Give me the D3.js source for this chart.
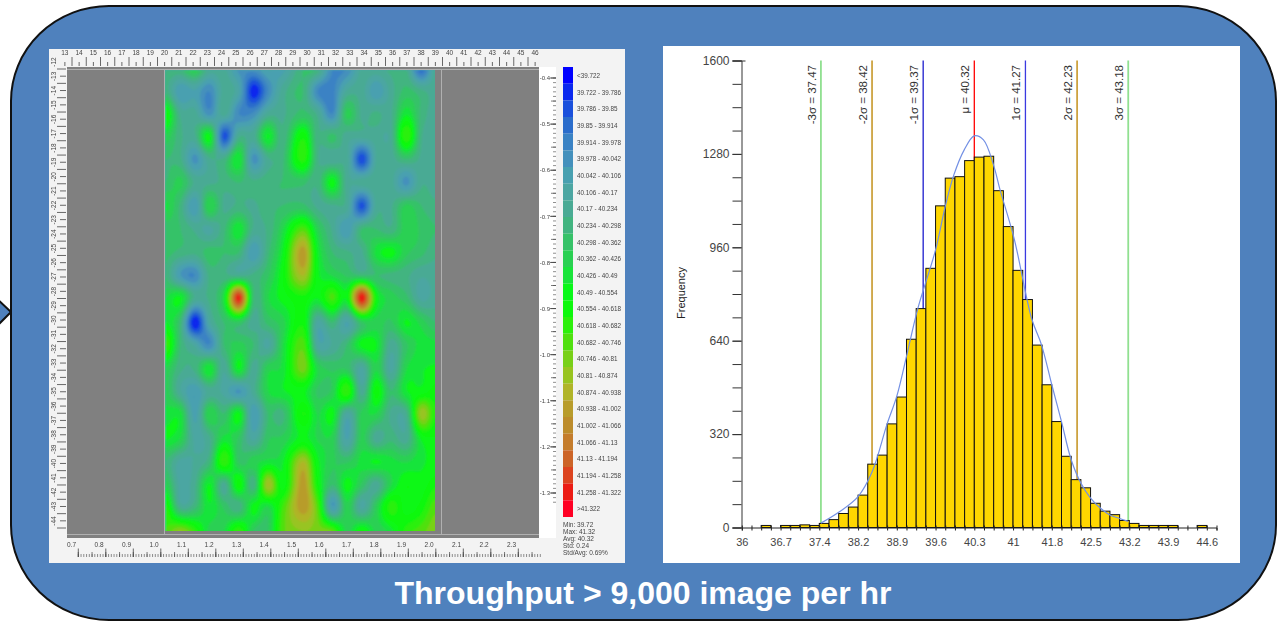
<!DOCTYPE html>
<html>
<head>
<meta charset="utf-8">
<script src="https://d3js.org/d3.v7.min.js"></script>
<style>
  body { margin: 0; background: #fff; }
  svg { display: block; font-family: "Liberation Sans", Arial, sans-serif; }
</style>
</head>
<body>
<div id="chart"></div>
<script>
// Wafer map: positions of the measured sites on the two side rulers
const heatCols = [1.013, 1.067, 1.12, 1.173, 1.226, 1.28, 1.333, 1.386, 1.439, 1.513, 1.566, 1.62, 1.673, 1.727, 1.78, 1.833, 1.889, 1.943, 1.993];
const heatRows = [-0.376, -0.426, -0.476, -0.524, -0.574, -0.624, -0.676, -0.726, -0.776, -0.826, -0.874, -0.928, -0.976, -1.028, -1.078, -1.126, -1.18, -1.23, -1.28, -1.328, -1.385];
const heatValues = [
  [40.3, 40.3, 40.42, 40.22, 40.2, 40.02, 40.02, 40.12, 40.08, 40.3, 40.3, 39.98, 39.98, 40.2, 40.22, 40.25, 40.25, 39.85, 40.2],
  [40.28, 40.05, 40.1, 39.98, 40.2, 40.12, 39.74, 39.98, 40.2, 40.3, 39.98, 39.95, 40.18, 40.2, 40.05, 40.2, 40.32, 40.25, 40.2],
  [40.6, 40.22, 40.2, 40.02, 40.2, 39.98, 40.0, 40.2, 40.22, 40.32, 40.22, 39.98, 40.38, 40.22, 40.25, 40.22, 40.48, 40.28, 40.2],
  [40.42, 40.25, 40.22, 40.52, 39.82, 40.22, 40.2, 40.5, 40.25, 40.6, 40.25, 40.32, 40.2, 40.2, 40.2, 40.2, 40.68, 40.25, 40.2],
  [40.3, 40.25, 40.02, 40.22, 40.25, 40.48, 40.02, 40.22, 40.28, 40.65, 40.25, 40.18, 40.2, 39.8, 40.18, 40.2, 40.3, 40.22, 40.2],
  [40.3, 40.38, 40.22, 40.22, 40.25, 40.3, 40.25, 40.28, 40.3, 40.32, 40.25, 40.53, 40.2, 40.2, 40.22, 40.2, 40.02, 40.22, 40.2],
  [40.45, 40.28, 40.05, 40.42, 40.22, 40.25, 40.22, 40.28, 40.3, 40.32, 40.22, 40.22, 40.2, 39.82, 40.2, 40.22, 40.38, 40.3, 40.25],
  [40.32, 40.3, 40.22, 40.15, 40.28, 40.48, 40.22, 40.25, 40.42, 40.72, 40.4, 40.22, 40.05, 40.3, 40.3, 40.25, 40.4, 40.35, 40.3],
  [40.32, 40.28, 40.25, 40.33, 40.3, 40.3, 40.05, 40.28, 40.5, 40.98, 40.5, 40.3, 40.25, 40.22, 40.45, 40.52, 40.38, 40.32, 40.25],
  [40.3, 40.05, 39.98, 40.25, 40.25, 40.22, 40.25, 40.35, 40.55, 40.88, 40.52, 40.42, 40.35, 40.3, 40.3, 40.28, 40.25, 40.18, 40.2],
  [40.42, 40.5, 40.22, 40.25, 40.45, 41.3, 40.3, 40.42, 40.52, 40.6, 40.5, 40.7, 40.52, 41.32, 40.55, 40.4, 40.32, 40.15, 40.2],
  [40.5, 40.3, 39.72, 40.15, 40.3, 40.35, 40.2, 40.32, 40.4, 40.6, 40.15, 40.3, 40.1, 40.35, 40.4, 40.35, 40.5, 40.4, 40.3],
  [40.7, 40.3, 40.15, 39.98, 40.3, 40.38, 40.3, 40.15, 40.42, 40.72, 40.15, 40.18, 40.3, 40.52, 40.5, 40.2, 40.35, 40.45, 40.45],
  [40.42, 40.25, 40.25, 40.48, 40.18, 40.5, 40.2, 40.4, 40.45, 40.78, 40.42, 40.35, 40.35, 40.15, 40.42, 40.15, 40.42, 40.48, 40.5],
  [40.4, 40.18, 40.05, 40.2, 40.15, 40.03, 40.2, 40.42, 40.48, 40.52, 40.35, 40.38, 40.68, 40.2, 40.58, 40.3, 40.48, 40.52, 40.58],
  [40.45, 40.45, 40.08, 40.42, 40.3, 40.52, 40.05, 40.3, 40.28, 40.62, 40.42, 40.52, 40.15, 40.38, 40.42, 40.22, 40.22, 40.85, 40.62],
  [40.5, 40.42, 40.15, 40.22, 40.45, 40.35, 40.15, 40.35, 40.38, 40.52, 40.42, 40.4, 40.1, 40.38, 40.2, 40.28, 40.2, 40.5, 40.55],
  [40.3, 40.15, 40.18, 40.28, 40.68, 40.35, 40.4, 40.45, 40.48, 40.88, 40.52, 40.38, 40.35, 40.45, 40.5, 40.45, 40.42, 40.48, 40.5],
  [40.42, 40.15, 40.22, 40.5, 40.2, 40.58, 40.25, 40.88, 40.52, 40.98, 40.58, 40.3, 40.52, 40.35, 40.2, 40.42, 40.55, 40.52, 40.6],
  [40.65, 40.22, 40.28, 40.48, 40.35, 40.25, 40.52, 40.42, 40.68, 40.98, 40.72, 40.05, 40.4, 40.15, 40.38, 40.65, 40.52, 40.58, 40.72],
  [40.68, 40.85, 40.68, 40.4, 40.42, 40.7, 40.35, 40.35, 40.72, 40.8, 40.78, 40.78, 40.4, 40.6, 40.4, 40.45, 40.65, 40.72, 40.8]
];

// Colour legend of the map
const bandEdges = [39.722, 39.786, 39.85, 39.914, 39.978, 40.042, 40.106, 40.17, 40.234, 40.298, 40.362, 40.426, 40.49, 40.554, 40.618, 40.682, 40.746, 40.81, 40.874, 40.938, 41.002, 41.066, 41.13, 41.194, 41.258, 41.322];
const bandColors = ["#0000ff", "#0a28ee", "#1a50dc", "#2a6ccb", "#3a82c4", "#4490bc", "#48a0b0", "#4ca6a2", "#4aaa94", "#42b480", "#36c268", "#2ad052", "#18e43a", "#08f818", "#0cf80c", "#2cf00c", "#50e010", "#78d018", "#98c420", "#b0b428", "#b89c2c", "#bc8c2c", "#c47c2c", "#cc6428", "#dc4420", "#ec1c14", "#ff0024"];
const bandLabels = ["<39.722"].concat(d3.pairs(bandEdges).map(p => p[0] + " - " + p[1]), [">41.322"]);
const statLabels = ["Min: 39.72", "Max: 41.32", "Avg: 40.32", "Std: 0.24", "Std/Avg: 0.69%"];

// Ruler labels around the map
const topRulerValues = d3.range(13, 47);
const leftRulerValues = d3.range(12, 45);
const rightRulerValues = [-0.4, -0.5, -0.6, -0.7, -0.8, -0.9, -1.0, -1.1, -1.2, -1.3];
const bottomRulerValues = [0.7, 0.8, 0.9, 1.0, 1.1, 1.2, 1.3, 1.4, 1.5, 1.6, 1.7, 1.8, 1.9, 2.0, 2.1, 2.2, 2.3];

// Histogram: bins are 0.18 wide, first bin starts at 36
const binStarts = d3.range(49).map(i => 36 + i * 0.18);
const binCounts = [0, 0, 7, 0, 7, 7, 9, 7, 14, 27, 48, 70, 111, 217, 248, 355, 447, 645, 750, 888, 1102, 1197, 1202, 1257, 1269, 1272, 1154, 1031, 881, 781, 625, 489, 363, 244, 164, 136, 83, 56, 44, 24, 14, 7, 7, 7, 7, 0, 0, 7, 0];
const curveX = [37.47, 37.8, 38.16, 38.42, 38.7, 38.88, 39.06, 39.27, 39.6, 39.78, 39.94, 40.13, 40.32, 40.49, 40.68, 40.8, 41.06, 41.385, 41.57, 41.76, 41.94, 42.12, 42.3, 42.48, 42.66, 42.84, 43.02, 43.18];
const curveY = [15, 52, 106, 190, 355, 450, 586, 750, 951, 1100, 1208, 1293, 1342, 1328, 1240, 1156, 990, 716, 625, 489, 363, 232, 152, 101, 67, 43, 31, 21];
const sigmaValues = [37.47, 38.42, 39.37, 40.32, 41.27, 42.23, 43.18];
const sigmaLabels = ["-3σ = 37.47", "-2σ = 38.42", "-1σ = 39.37", "μ = 40.32", "1σ = 41.27", "2σ = 42.23", "3σ = 43.18"];
const sigmaColors = ["#90e090", "#cda341", "#1c1ccc", "#ff0000", "#3a3ae0", "#cda341", "#90e090"];
const yTicks = [0, 320, 640, 960, 1280, 1600];
const yMinorTicks = d3.range(0, 1601, 80);
const xTicks = [36, 36.72, 37.44, 38.16, 38.88, 39.6, 40.32, 41.04, 41.76, 42.48, 43.2, 43.92, 44.64];
const xTickLabels = ["36", "36.7", "37.4", "38.2", "38.9", "39.6", "40.3", "41", "41.8", "42.5", "43.2", "43.9", "44.6"];

const svg = d3.select("#chart").append("svg").attr("width", 1278).attr("height", 622);
const defs = svg.append("defs");
defs.append("filter").attr("id", "soft").attr("x", "-2%").attr("y", "-2%").attr("width", "104%").attr("height", "104%")
  .append("feGaussianBlur").attr("stdDeviation", 1);
defs.append("filter").attr("id", "textSoft")
  .append("feGaussianBlur").attr("stdDeviation", 0.35);
defs.append("clipPath").attr("id", "heatClip")
  .append("rect").attr("x", 165).attr("y", 70).attr("width", 270).attr("height", 461);

// Blue callout behind both panels
svg.append("path")
  .attr("d", "M-6,296L11,312L-6,329Z")
  .attr("fill", "#4f81bd").attr("stroke", "#111").attr("stroke-width", 2);
svg.append("rect")
  .attr("x", 11).attr("y", 6).attr("width", 1265).attr("height", 614).attr("rx", 98).attr("ry", 95)
  .attr("fill", "#4f81bd").attr("stroke", "#111").attr("stroke-width", 2);
svg.append("text")
  .attr("x", 643).attr("y", 604).attr("text-anchor", "middle")
  .attr("font-size", 32).attr("font-weight", "bold").attr("fill", "#fff")
  .text("Throughput > 9,000 image per hr");

// ---- Left panel: wafer map ----
const left = svg.append("g");
left.append("rect").attr("x", 49).attr("y", 49).attr("width", 576).attr("height", 514).attr("fill", "#f3f3f3");
left.append("rect").attr("x", 67).attr("y", 67).attr("width", 472).attr("height", 471).attr("fill", "#808080");
left.append("rect").attr("x", 539).attr("y", 67).attr("width", 17).attr("height", 471).attr("fill", "#fff");

// Scales of the four rulers
const topX = d3.scaleLinear().domain([14, 46]).range([72, 528]);
const leftY = d3.scaleLinear().domain([12, 44]).range([69, 528]);
const rightY = d3.scaleLinear().domain([-0.4, -1.3]).range([78, 493]);
const bottomX = d3.scaleLinear().domain([0.7, 2.3]).range([78.3, 518.3]);

// Resample the sites on a fine grid so that d3.contours gives smooth bands
const colIndex = d3.scaleLinear().domain(heatCols).range(d3.range(heatCols.length)).clamp(true);
const rowIndex = d3.scaleLinear().domain(heatRows).range(d3.range(heatRows.length)).clamp(true);
function cubic(a, b, c, d, t) {
  return b + 0.5 * t * (c - a + t * (2 * a - 5 * b + 4 * c - d + t * (3 * (b - c) + d - a)));
}
function sample(cx, cy) {
  const i = Math.min(Math.floor(cx), heatCols.length - 2), j = Math.min(Math.floor(cy), heatRows.length - 2);
  const pick = (r, c) => heatValues[Math.max(0, Math.min(heatRows.length - 1, r))][Math.max(0, Math.min(heatCols.length - 1, c))];
  const rows = [-1, 0, 1, 2].map(dr => cubic(pick(j + dr, i - 1), pick(j + dr, i), pick(j + dr, i + 1), pick(j + dr, i + 2), cx - i));
  return cubic(rows[0], rows[1], rows[2], rows[3], cy - j);
}
const gridW = 136, gridH = 232;
const gridPx = 2;
const grid = new Array(gridW * gridH);
for (let gy = 0; gy < gridH; gy++) {
  for (let gx = 0; gx < gridW; gx++) {
    const v = bottomX.invert(165 + gx * gridPx);
    const w = rightY.invert(70 + gy * gridPx);
    grid[gy * gridW + gx] = sample(colIndex(v), rowIndex(w));
  }
}
const contours = d3.contours().size([gridW, gridH]).thresholds(bandEdges)(grid);
const gridPath = d3.geoPath(d3.geoTransform({
  point: function(px, py) { this.stream.point(165 + px * gridPx, 70 + py * gridPx); }
}));
const heat = left.append("g").attr("clip-path", "url(#heatClip)").append("g").attr("filter", "url(#soft)");
heat.append("rect").attr("x", 160).attr("y", 65).attr("width", 280).attr("height", 471).attr("fill", bandColors[7]);
heat.selectAll("path")
  .data(contours)
  .enter().append("path")
  .attr("d", gridPath)
  .attr("fill", (d, i) => bandColors[i + 1]);

// Light frame lines on the grey area
const frame = left.append("g").attr("stroke", "#b0b0b0").attr("stroke-width", 1);
frame.append("line").attr("x1", 67).attr("x2", 539).attr("y1", 69.5).attr("y2", 69.5);
frame.append("line").attr("x1", 67).attr("x2", 539).attr("y1", 534.5).attr("y2", 534.5);
frame.append("line").attr("x1", 164.5).attr("x2", 164.5).attr("y1", 69).attr("y2", 535);
frame.append("line").attr("x1", 441.5).attr("x2", 441.5).attr("y1", 69).attr("y2", 535);

// Rulers, all slightly soft like the screenshot
const rulers = left.append("g").attr("filter", "url(#textSoft)").attr("font-size", 6.5).attr("fill", "#444");

function tickLines(values, attrs, size) {
  rulers.append("g").attr("stroke", "#444").attr("stroke-width", size)
    .selectAll("line").data(values).enter().append("line")
    .attr("x1", attrs.x1).attr("x2", attrs.x2).attr("y1", attrs.y1).attr("y2", attrs.y2);
}

// Top ruler
tickLines(d3.range(13.5, 47, 1), { x1: d => topX(d), x2: d => topX(d), y1: 62, y2: 66 }, 0.8);
tickLines(d3.range(14, 47), { x1: d => topX(d), x2: d => topX(d), y1: 57, y2: 66 }, 0.8);
rulers.append("g").selectAll("text").data(topRulerValues).enter().append("text")
  .attr("x", d => topX(d) + 7).attr("y", 55).attr("text-anchor", "middle").text(d => d);

// Left ruler
tickLines(d3.range(12.5, 44, 1), { x1: 60, x2: 66, y1: d => leftY(d), y2: d => leftY(d) }, 0.8);
tickLines(d3.range(12, 45), { x1: 57, x2: 66, y1: d => leftY(d), y2: d => leftY(d) }, 0.8);
rulers.append("g").selectAll("text").data(leftRulerValues).enter().append("text")
  .attr("transform", d => "translate(56," + (leftY(d) - 7) + ") rotate(-90)")
  .attr("text-anchor", "middle").text(d => "-" + d);

// Right ruler
tickLines(d3.range(-0.4, -1.33, -0.01), { x1: 553, x2: 556, y1: d => rightY(d), y2: d => rightY(d) }, 0.6);
tickLines(d3.range(-0.4, -1.33, -0.05), { x1: 551, x2: 556, y1: d => rightY(d), y2: d => rightY(d) }, 0.7);
tickLines(rightRulerValues, { x1: 550, x2: 556, y1: d => rightY(d), y2: d => rightY(d) }, 0.8);
rulers.append("g").selectAll("text").data(rightRulerValues).enter().append("text")
  .attr("x", 550).attr("y", d => rightY(d) + 2.2).attr("text-anchor", "end").attr("font-size", 6)
  .text(d => d.toFixed(1));

// Bottom ruler
tickLines(d3.range(0.7, 2.39, 0.01), { x1: d => bottomX(d), x2: d => bottomX(d), y1: 554, y2: 557 }, 0.6);
tickLines(d3.range(0.7, 2.39, 0.05), { x1: d => bottomX(d), x2: d => bottomX(d), y1: 552, y2: 557 }, 0.7);
tickLines(bottomRulerValues, { x1: d => bottomX(d), x2: d => bottomX(d), y1: 548.5, y2: 557 }, 0.8);
rulers.append("g").selectAll("text").data(bottomRulerValues).enter().append("text")
  .attr("x", d => bottomX(d) - 6.7).attr("y", 546.5).attr("text-anchor", "middle").text(d => d.toFixed(1));

// Legend
const legendY = d3.scaleBand().domain(d3.range(bandLabels.length)).range([67, 517]);
left.append("g").selectAll("rect").data(bandColors).enter().append("rect")
  .attr("x", 563).attr("width", 10)
  .attr("y", (d, i) => legendY(i)).attr("height", legendY.bandwidth())
  .attr("fill", d => d);
const legendText = left.append("g").attr("filter", "url(#textSoft)").attr("fill", "#444");
legendText.selectAll("text.band").data(bandLabels).enter().append("text")
  .attr("class", "band")
  .attr("x", 577).attr("y", (d, i) => legendY(i) + legendY.bandwidth() / 2 + 2.6)
  .attr("font-size", 6.3).text(d => d);
legendText.selectAll("text.stat").data(statLabels).enter().append("text")
  .attr("class", "stat")
  .attr("x", 563).attr("y", (d, i) => 527 + i * 7).attr("font-size", 6.5).text(d => d);

// ---- Right panel: histogram ----
const right = svg.append("g");
right.append("rect").attr("x", 663).attr("y", 46).attr("width", 577).attr("height", 517).attr("fill", "#fff");

const x = d3.scaleLinear().domain([36, 44.82]).range([741.8, 1216.5]);
const y = d3.scaleLinear().domain([0, 1600]).range([527.5, 60.5]);

// Sigma lines sit behind the bars
right.append("g").selectAll("line").data(sigmaValues).enter().append("line")
  .attr("x1", d => x(d)).attr("x2", d => x(d))
  .attr("y1", y(1600)).attr("y2", y(0))
  .attr("stroke", (d, i) => sigmaColors[i])
  .attr("stroke-width", (d, i) => (i === 2 || i === 3 || i === 4) ? 1.3 : 1.8);

const bins = binStarts.map((s, i) => ({ start: s, count: binCounts[i] })).filter(d => d.count > 0);
right.append("g").selectAll("rect").data(bins).enter().append("rect")
  .attr("x", d => x(d.start))
  .attr("width", d => x(d.start + 0.18) - x(d.start))
  .attr("y", d => y(d.count))
  .attr("height", d => y(0) - y(d.count))
  .attr("fill", "#ffd700").attr("stroke", "#111").attr("stroke-width", 1);

right.append("path")
  .datum(curveX.map((v, i) => [v, curveY[i]]))
  .attr("d", d3.line().x(d => x(d[0])).y(d => y(d[1])).curve(d3.curveCatmullRom))
  .attr("fill", "none").attr("stroke", "#7390e4").attr("stroke-width", 1.2);

right.append("g").selectAll("text").data(sigmaLabels).enter().append("text")
  .attr("transform", (d, i) => "translate(" + (x(sigmaValues[i]) - 5) + ",65) rotate(-90)")
  .attr("text-anchor", "end").attr("font-size", 11.5).attr("fill", "#333").text(d => d);

// Axes
const yMinor = right.append("g").attr("transform", "translate(741.5,0)")
  .call(d3.axisLeft(y).tickValues(yMinorTicks).tickSize(9).tickFormat(""));
yMinor.select(".domain").attr("stroke", "#333");
yMinor.selectAll("line").attr("stroke", "#333");
const yAxis = right.append("g").attr("transform", "translate(741.5,0)")
  .call(d3.axisLeft(y).tickValues(yTicks).tickSize(9).tickPadding(3).tickFormat(d => d));
yAxis.select(".domain").remove();
yAxis.selectAll("text").attr("font-size", 12).attr("font-family", "inherit").attr("fill", "#444");
yAxis.selectAll("line").attr("stroke", "#333");
// the top tick pokes through the axis line
yAxis.selectAll(".tick").filter(d => d === 1600).select("line").attr("x2", 4).attr("x1", -9);

const xMinor = right.append("g").attr("transform", "translate(0,527.5)")
  .call(d3.axisBottom(x).tickValues(d3.range(36, 44.83, 0.18)).tickSize(3).tickFormat(""));
xMinor.selectAll("line").attr("y1", -2).attr("stroke", "#222");
xMinor.select(".domain").attr("stroke", "#222");
const xAxis = right.append("g").attr("transform", "translate(0,527.5)")
  .call(d3.axisBottom(x).tickValues(xTicks).tickSize(3).tickPadding(8).tickFormat((d, i) => xTickLabels[i]));
xAxis.select(".domain").remove();
xAxis.selectAll("line").remove();
xAxis.selectAll("text").attr("font-size", 11).attr("font-family", "inherit").attr("fill", "#444");

right.append("text")
  .attr("transform", "translate(685,293) rotate(-90)")
  .attr("text-anchor", "middle").attr("font-size", 11).attr("fill", "#222")
  .text("Frequency");
</script>
</body>
</html>
